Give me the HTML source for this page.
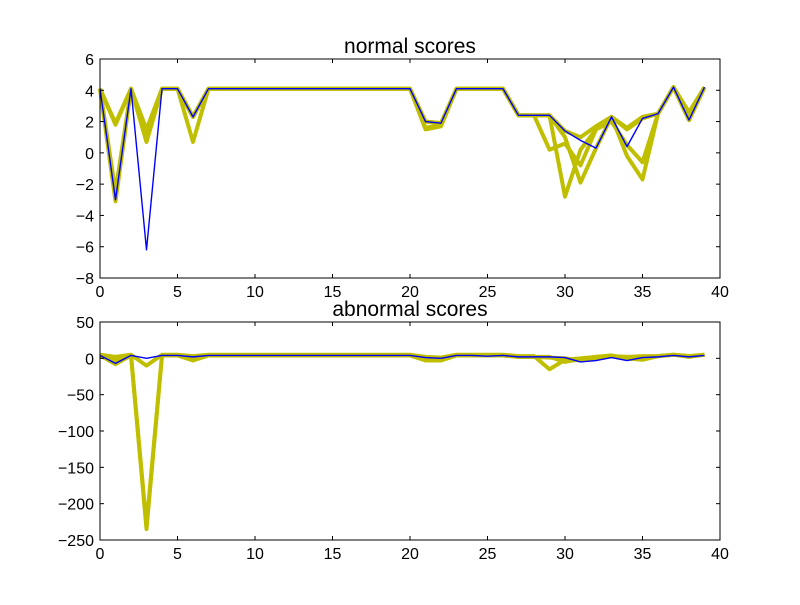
<!DOCTYPE html>
<html><head><meta charset="utf-8"><style>
body{margin:0;background:#fff;}
text{font-family:"Liberation Sans","DejaVu Sans",sans-serif;}
</style></head><body>
<svg id="fig" width="800" height="600" xmlns="http://www.w3.org/2000/svg">
<rect width="800" height="600" fill="#fff"/>
</svg>
<script>
const xs = Array.from({length:40},(_,i)=>i);
const topBlue = [4.1,-3.0,4.1,-6.2,4.1,4.1,2.3,4.1,4.1,4.1,4.1,4.1,4.1,4.1,4.1,4.1,4.1,4.1,4.1,4.1,4.1,2.0,1.9,4.1,4.1,4.1,4.1,2.4,2.4,2.4,1.4,0.8,0.3,2.3,0.4,2.2,2.5,4.2,2.1,4.2];
const topY1 = [4.1,-3.1,4.1,0.7,4.1,4.1,0.7,4.1,4.1,4.1,4.1,4.1,4.1,4.1,4.1,4.1,4.1,4.1,4.1,4.1,4.1,1.5,1.7,4.1,4.1,4.1,4.1,2.4,2.4,2.4,-2.8,0.2,1.5,2.3,1.5,2.2,2.5,4.2,2.1,4.2];
const topY2 = [4.1,1.8,4.1,1.5,4.1,4.1,2.3,4.1,4.1,4.1,4.1,4.1,4.1,4.1,4.1,4.1,4.1,4.1,4.1,4.1,4.1,2.0,1.9,4.1,4.1,4.1,4.1,2.4,2.4,2.4,1.0,-1.9,0.3,2.3,-0.2,-1.7,2.5,4.2,2.6,4.2];
const topY3 = [4.1,-2.5,4.1,1.0,4.1,4.1,2.3,4.1,4.1,4.1,4.1,4.1,4.1,4.1,4.1,4.1,4.1,4.1,4.1,4.1,4.1,1.6,1.8,4.1,4.1,4.1,4.1,2.4,2.4,0.2,0.6,-0.8,1.5,2.0,0.5,-0.6,2.5,4.2,2.1,4.2];
const topY4 = [4.1,1.9,4.1,1.2,4.1,4.1,2.3,4.1,4.1,4.1,4.1,4.1,4.1,4.1,4.1,4.1,4.1,4.1,4.1,4.1,4.1,2.0,1.9,4.1,4.1,4.1,4.1,2.4,2.4,2.4,1.4,1.0,1.7,2.3,1.6,2.3,2.5,4.2,2.1,4.2];
const botBlue = [4,-7,4,0,4,4,2,4,4,4,4,4,4,4,4,4,4,4,4,4,4,1,0,4,4,3,4,2,2,2,1,-5,-3,1,-3,1,2,4,2,4];
const botY1 = [4,-8,4,-235,4,4,-3,4,4,4,4,4,4,4,4,4,4,4,4,4,4,-3,-3,4,4,4,4,2,2,2,-5,-1,2,3,2,3,3,5,3,5];
const botY2 = [5,2,5,-10,5,5,3,5,5,5,5,5,5,5,5,5,5,5,5,5,5,2,1,5,5,5,5,3,3,-15,-2,0,2,4,0,-2,3,5,2,5];
const botY3 = [4,-3,4,-230,4,4,2,4,4,4,4,4,4,4,4,4,4,4,4,4,4,0,-1,4,4,4,4,2,2,1,0,-3,0,3,-1,0,3,5,3,5];
const xTicks = [0,5,10,15,20,25,30,35,40];
const topTicks = [6,4,2,0,-2,-4,-6,-8];
const botTicks = [50,0,-50,-100,-150,-200,-250];

const svg = document.getElementById('fig');
const NS = 'http://www.w3.org/2000/svg';
function mk(tag, attrs, parent){const e=document.createElementNS(NS,tag);for(const k in attrs)e.setAttribute(k,attrs[k]);(parent||svg).appendChild(e);return e;}

function panel(name, title, y0, y1, ymin, ymax, yticks, yfmt, series){
  const x0=100,x1=720;
  const sx=v=>x0+(v-0)/(40-0)*(x1-x0);
  const sy=v=>y1-(v-ymin)/(ymax-ymin)*(y1-y0);
  const g=mk('g',{});
  
  
  series.forEach((s,i)=>{
    const p=mk('polyline',{points:xs.map((x,j)=>sx(x)+','+sy(s.d[j])).join(' '),fill:'none',stroke:s.c,'stroke-width':s.w,'stroke-linejoin':'round'},g);
    
    
  });
  const fr=mk('rect',{x:x0,y:y0,width:x1-x0,height:y1-y0,fill:'none',stroke:'#000','stroke-width':1},g);
  
  
  xTicks.forEach(t=>{
    const X=sx(t);
    mk('line',{x1:X,x2:X,y1:y1,y2:y1-4,stroke:'#000'},g);
    mk('line',{x1:X,x2:X,y1:y0,y2:y0+4,stroke:'#000'},g);
    const tx=mk('text',{x:X,y:y1+19,'text-anchor':'middle','font-size':16},g);
    tx.textContent=t;
    
    
  });
  yticks.forEach(t=>{
    const Y=sy(t);
    mk('line',{x1:x0,x2:x0+4,y1:Y,y2:Y,stroke:'#000'},g);
    mk('line',{x1:x1,x2:x1-4,y1:Y,y2:Y,stroke:'#000'},g);
    const tx=mk('text',{x:x0-6,y:Y+6,'text-anchor':'end','font-size':16},g);
    tx.textContent=yfmt(t);
    
    
  });
  const tt=mk('text',{x:(x0+x1)/2,y:y0-6,'text-anchor':'middle','font-size':21},g);
  tt.textContent=title;
  
  
}
const fmt=t=>t<0?'\u2212'+Math.abs(t):String(t);
const Y='#bfbf00';
panel('normal-scores-panel','normal scores',59,278,-8,6,topTicks,fmt,[
  {n:'yellow-series-1',d:topY1,c:Y,w:4},{n:'yellow-series-2',d:topY2,c:Y,w:4},
  {n:'yellow-series-3',d:topY3,c:Y,w:4},{n:'yellow-series-4',d:topY4,c:Y,w:4},
  {n:'blue-series',d:topBlue,c:'#0000ff',w:1.4}]);
panel('abnormal-scores-panel','abnormal scores',322,540,-250,50,botTicks,fmt,[
  {n:'yellow-series-1',d:botY1,c:Y,w:4},{n:'yellow-series-2',d:botY2,c:Y,w:4},
  {n:'yellow-series-3',d:botY3,c:Y,w:4},
  {n:'blue-series',d:botBlue,c:'#0000ff',w:1.4}]);
</script>
</body></html>
